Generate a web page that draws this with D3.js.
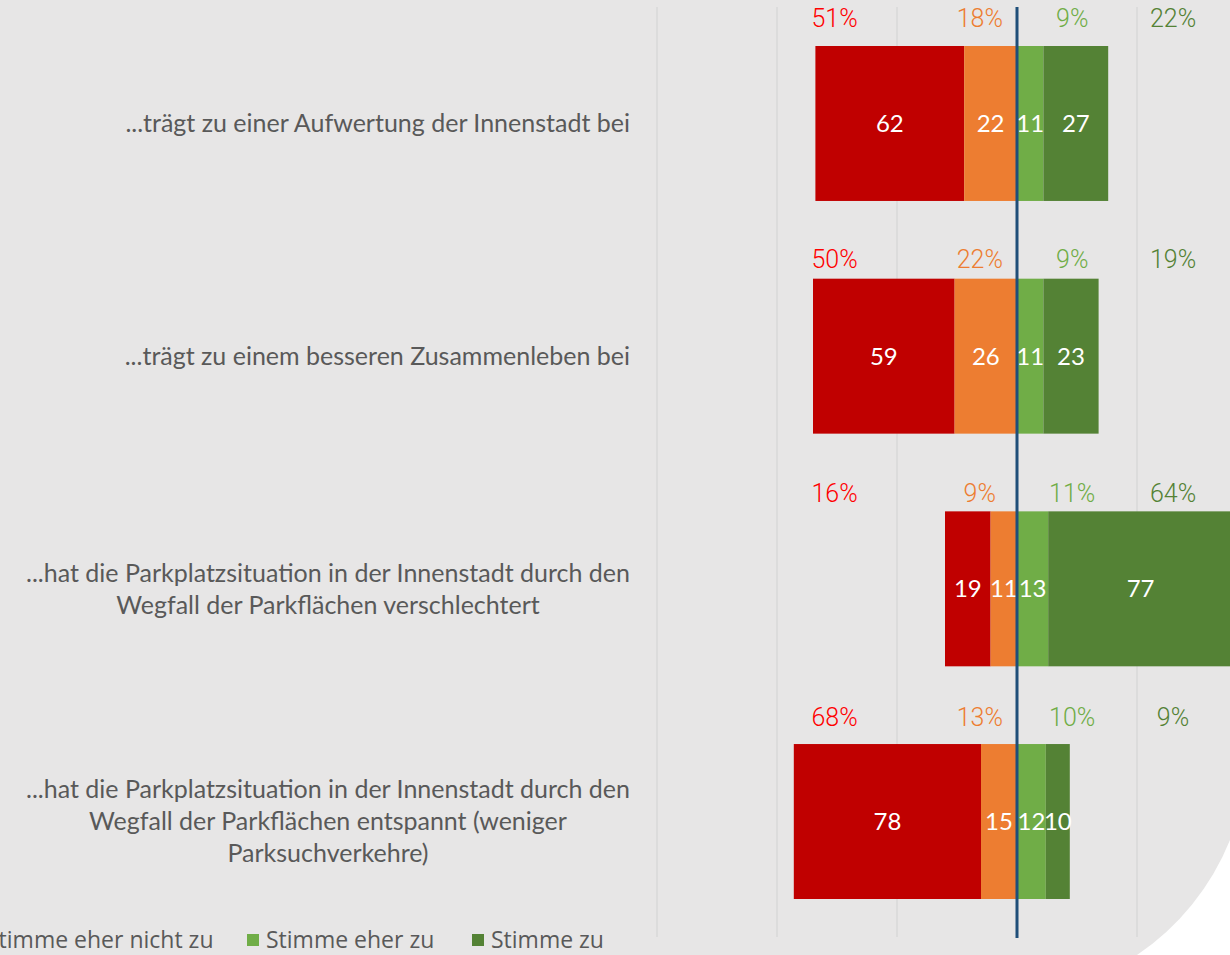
<!DOCTYPE html>
<html>
<head>
<meta charset="utf-8">
<script src="https://cdn.jsdelivr.net/npm/d3@7"></script>
<style>
  html, body { margin: 0; padding: 0; background: #e7e6e6; overflow: hidden; }
  svg { display: block; }
</style>
</head>
<body>
<div id="chart"></div>
<script>
// categories (line breaks as in the original slide)
let categories = [
  ['...trägt zu einer Aufwertung der Innenstadt bei'],
  ['...trägt zu einem besseren Zusammenleben bei'],
  ['...hat die Parkplatzsituation in der Innenstadt durch den', 'Wegfall der Parkflächen verschlechtert'],
  ['...hat die Parkplatzsituation in der Innenstadt durch den', 'Wegfall der Parkflächen entspannt (weniger', 'Parksuchverkehre)']
]

// counts per answer
let stimmeNichtZu = [62, 59, 19, 78]
let stimmeEherNichtZu = [22, 26, 11, 15]
let stimmeEherZu = [11, 11, 13, 12]
let stimmeZu = [27, 23, 77, 10]

// shares per answer (%)
let pctNichtZu = [51, 50, 16, 68]
let pctEherNichtZu = [18, 22, 9, 13]
let pctEherZu = [9, 9, 11, 10]
let pctZu = [22, 19, 64, 9]

let legendLabels = ['Stimme eher nicht zu', 'Stimme eher zu', 'Stimme zu']
let gridTicks = [-150, -100, -50, 50, 100]

// styling
let W = 1230
let H = 955
let colors = ['#c00000', '#ed7d31', '#70ad47', '#548235']
let pctColors = ['#ff0000', '#ed7d31', '#70ad47', '#548235']
let pctColumns = [-76, -15.5, 23, 65]   // x (in data units) of the % label columns
let pctGap = [28, 19, 18, 27]           // distance of % labels above the bar
let labelRight = 630
let textFont = 'Lato, "Open Sans", sans-serif'

let raw = d3.select('#chart')
  .append('svg')
  .attr('width', W)
  .attr('height', H)

raw.append('rect')
  .attr('width', W)
  .attr('height', H)
  .attr('fill', '#e7e6e6')

// white slide decoration in the lower right corner
raw.append('path')
  .attr('d', `M${W},840 A253,253 0 0 1 1137,${H} L${W},${H} Z`)
  .attr('fill', '#ffffff')

// scales
let xs = d3.scaleLinear()
  .domain([-150, 50])
  .range([657, 1137])
let ys = d3.scaleBand()
  .domain(d3.range(categories.length))
  .range([46, 899])
  .paddingInner(0.334)
  .paddingOuter(0)

// grid
raw.selectAll('.grid')
  .data(gridTicks)
  .enter()
  .append('line')
  .classed('grid', true)
  .attr('x1', (d) => xs(d))
  .attr('x2', (d) => xs(d))
  .attr('y1', 7)
  .attr('y2', 937)
  .attr('stroke', '#d9d9d9')
  .attr('stroke-width', 1.5)

// stack: negatives to the left of zero, positives to the right
let rows = categories.map((c, i) => {
  let segs = [
    {x0: -(stimmeNichtZu[i] + stimmeEherNichtZu[i]), x1: -stimmeEherNichtZu[i], v: stimmeNichtZu[i], k: 0},
    {x0: -stimmeEherNichtZu[i], x1: 0, v: stimmeEherNichtZu[i], k: 1},
    {x0: 0, x1: stimmeEherZu[i], v: stimmeEherZu[i], k: 2},
    {x0: stimmeEherZu[i], x1: stimmeEherZu[i] + stimmeZu[i], v: stimmeZu[i], k: 3}
  ]
  let pcts = [pctNichtZu[i], pctEherNichtZu[i], pctEherZu[i], pctZu[i]]
  return {i: i, segs: segs, pcts: pcts}
})

let bars = raw.selectAll('.row')
  .data(rows)
  .enter()
  .append('g')
  .classed('row', true)

bars.selectAll('rect')
  .data((r) => r.segs.map((s) => Object.assign({i: r.i}, s)))
  .enter()
  .append('rect')
  .attr('x', (d) => xs(d.x0))
  .attr('y', (d) => ys(d.i))
  .attr('width', (d) => xs(d.x1) - xs(d.x0))
  .attr('height', ys.bandwidth())
  .attr('fill', (d) => colors[d.k])

// value labels inside the bars
bars.selectAll('.val')
  .data((r) => r.segs.map((s) => Object.assign({i: r.i}, s)))
  .enter()
  .append('text')
  .classed('val', true)
  .attr('x', (d) => (xs(d.x0) + xs(d.x1)) / 2)
  .attr('y', (d) => ys(d.i) + ys.bandwidth() / 2)
  .attr('dy', '0.35em')
  .style('text-anchor', 'middle')
  .style('font-family', textFont)
  .style('font-size', '24px')
  .style('fill', '#ffffff')
  .text((d) => d.v)

// percentage labels above the bars
bars.selectAll('.pct')
  .data((r) => r.pcts.map((p, k) => ({i: r.i, p: p, k: k})))
  .enter()
  .append('text')
  .classed('pct', true)
  .attr('x', (d) => xs(pctColumns[d.k]))
  .attr('y', (d) => ys(d.i) - pctGap[d.i])
  .attr('dy', '0.35em')
  .style('text-anchor', 'middle')
  .style('font-family', 'Roboto, sans-serif')
  .style('font-weight', 300)
  .style('font-size', '25px')
  .style('fill', (d) => pctColors[d.k])
  .text((d) => d.p + '%')

// zero line
raw.append('line')
  .attr('x1', xs(0))
  .attr('x2', xs(0))
  .attr('y1', 7)
  .attr('y2', 938)
  .attr('stroke', '#1f4e79')
  .attr('stroke-width', 3)

// category labels: centred block, longest line right-aligned at labelRight
let lineH = 32
let cats = raw.selectAll('.cat')
  .data(categories)
  .enter()
  .append('text')
  .classed('cat', true)
  .style('font-family', textFont)
  .style('font-size', '25px')
  .style('fill', '#595959')
  .style('text-anchor', 'middle')

cats.each(function (lines, i) {
  let t = d3.select(this)
  let cy = ys(i) + ys.bandwidth() / 2
  let spans = t.selectAll('tspan')
    .data(lines)
    .enter()
    .append('tspan')
    .attr('y', (d, j) => cy + (j - (lines.length - 1) / 2) * lineH)
    .attr('dy', '0.35em')
    .text((d) => d)
  let maxW = d3.max(spans.nodes(), (n) => n.getComputedTextLength())
  spans.attr('x', labelRight - maxW / 2)
})

// legend (only the right part fits on the slide)
let legendX = [-33, 247, 472]
let legend = raw.selectAll('.legend')
  .data(legendLabels)
  .enter()
  .append('g')
  .classed('legend', true)
  .attr('transform', (d, i) => `translate(${legendX[i]},940)`)
legend.append('rect')
  .attr('x', 0)
  .attr('y', -6)
  .attr('width', 12)
  .attr('height', 12)
  .attr('fill', (d, i) => colors[i + 1])
legend.append('text')
  .attr('x', 19)
  .attr('dy', '0.35em')
  .style('font-family', '"Open Sans", sans-serif')
  .style('font-size', '23px')
  .style('fill', '#595959')
  .text((d) => d)
</script>
</body>
</html>
